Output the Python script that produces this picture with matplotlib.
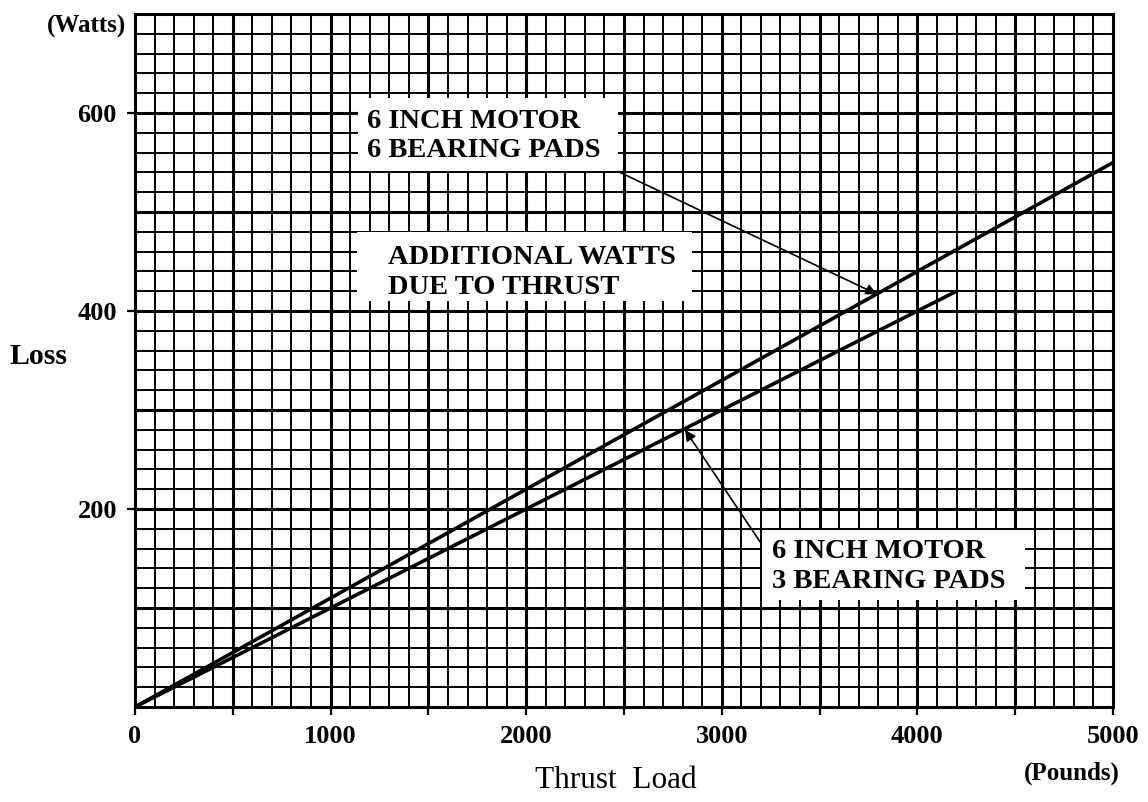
import matplotlib
matplotlib.use("Agg")
import matplotlib.pyplot as plt
from matplotlib.ticker import MultipleLocator, FuncFormatter
from matplotlib.patches import Rectangle
import numpy as np

plt.rcParams['font.family'] = ['Liberation Serif', 'DejaVu Serif']

# thrust load (pounds) vs additional loss (watts)
load_6pads = [0, 5000]
loss_6pads = [0, 550]
load_3pads = [0, 4200]
loss_3pads = [0, 420]

x_ticks = [0, 1000, 2000, 3000, 4000, 5000]
y_ticks = [200, 400, 600]

fig = plt.figure(figsize=(11.48, 8.02), dpi=100)
ax = fig.add_axes([0.1176, 0.1185, 0.8519, 0.864])

ax.set_xlim(0, 5000)
ax.set_ylim(0, 700)

# graph paper grid
ax.xaxis.set_minor_locator(MultipleLocator(100))
ax.yaxis.set_minor_locator(MultipleLocator(20))
ax.grid(which='minor', color='black', lw=1.4, zorder=1)
for v in np.arange(500, 5000, 500):
    ax.axvline(v, color='black', lw=2.2, zorder=1)
for h in np.arange(100, 700, 100):
    ax.axhline(h, color='black', lw=2.2, zorder=1)
for s in ax.spines.values():
    s.set_linewidth(2.2)

ax.xaxis.set_major_locator(MultipleLocator(500))
ax.xaxis.set_major_formatter(FuncFormatter(lambda v, p: f"{int(v)}" if int(v) in x_ticks else ""))
ax.set_yticks(y_ticks)
ax.tick_params(which='minor', length=0)
ax.tick_params(which='major', length=6, width=1.6, direction='out')
ax.tick_params(axis='x', pad=7)
ax.tick_params(axis='y', pad=7)
for lab in ax.get_xticklabels() + ax.get_yticklabels():
    lab.set_fontsize(19)
    lab.set_fontweight('bold')

# lines
ax.plot(load_6pads, loss_6pads, color='black', lw=2.6, zorder=3)
ax.plot(load_3pads, loss_3pads, color='black', lw=2.6, zorder=3)

# white label boxes
boxes = [(1140, 541, 1330, 74), (1135, 410, 1713, 70), (3206, 108, 1344, 71)]
for bx, by, bw, bh in boxes:
    ax.add_patch(Rectangle((bx, by), bw, bh, facecolor='white', edgecolor='none', zorder=4))

tfont = dict(fontsize=20.5, fontweight='bold', ha='left', va='center', linespacing=1.24, zorder=5)
ax.text(1186, 577, "6 INCH MOTOR\n6 BEARING PADS", **tfont)
ax.text(1293, 439, "ADDITIONAL WATTS\nDUE TO THRUST", **tfont)
ax.text(3257, 142, "6 INCH MOTOR\n3 BEARING PADS", **tfont)

aprops = dict(arrowstyle='-|>', lw=1.2, color='black', mutation_scale=16, shrinkA=0, shrinkB=0)
ax.annotate('', xy=(3793, 417), xytext=(2469, 541), arrowprops=aprops, zorder=5)
ax.annotate('', xy=(2812, 280), xytext=(3195, 167), arrowprops=aprops, zorder=5)

# axis titles
fig.text(86 / 1148, 1 - 26 / 802, "(Watts)", fontsize=18, fontweight='bold', ha='center', va='center')
fig.text(38 / 1148, 1 - 357 / 802, "Loss", fontsize=21.5, fontweight='bold', ha='center', va='center')
fig.text(1072 / 1148, 1 - 773 / 802, "(Pounds)", fontsize=18, fontweight='bold', ha='center', va='center')
fig.text(616 / 1148, 1 - 781 / 802, "Thrust  Load", fontsize=22.5, ha='center', va='center')

fig.savefig("out.png", dpi=100)
